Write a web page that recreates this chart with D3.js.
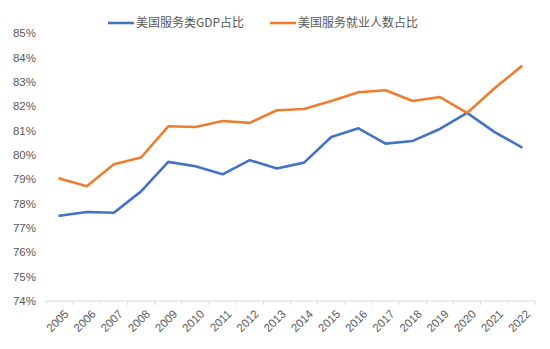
<!DOCTYPE html>
<html>
<head>
<meta charset="utf-8">
<script src="https://cdn.jsdelivr.net/npm/d3@7"></script>
<style>
  html,body{margin:0;padding:0;background:#fff;}
  svg{display:block;}
  .tick text{fill:#595959;}
</style>
</head>
<body>
<svg id="chart" width="550" height="349"></svg>
<script>
// ---- data ----
const years = ['2005','2006','2007','2008','2009','2010','2011','2012','2013','2014','2015','2016','2017','2018','2019','2020','2021','2022'];
const gdpShare = [77.5,77.65,77.62,78.5,79.71,79.53,79.2,79.78,79.44,79.68,80.73,81.09,80.46,80.57,81.06,81.72,80.94,80.32];
const jobShare = [79.03,78.71,79.61,79.89,81.17,81.14,81.39,81.31,81.83,81.88,82.21,82.57,82.65,82.21,82.37,81.72,82.72,83.63];
const yTicks = [74,75,76,77,78,79,80,81,82,83,84,85];
const seriesNames = ['美国服务类GDP占比','美国服务就业人数占比'];
const colors = ['#4472C4','#ED7D31'];

(function(){
  const svg = d3.select('#chart');
  const font = '"Liberation Sans Narrow","Liberation Sans",Arial,sans-serif';
  const M = {l:46, r:15, t:33, b:48};
  const W = 550, H = 349;

  const x = d3.scaleBand().domain(years).range([M.l, W-M.r]);
  const y = d3.scaleLinear().domain([74,85]).range([H-M.b, M.t]);

  // y axis: labels only
  const ya = svg.append('g').attr('transform',`translate(${M.l},0)`)
    .call(d3.axisLeft(y).tickValues(yTicks).tickSize(0).tickPadding(10).tickFormat(d=>d+'%'));
  ya.select('.domain').remove();
  ya.selectAll('text').style('font-family',font).style('font-size','11.5px');

  // x axis: grey baseline with boundary ticks
  const xa = svg.append('g').attr('transform',`translate(0,${H-M.b})`);
  xa.append('line').attr('x1',M.l).attr('x2',W-M.r).attr('stroke','#D9D9D9');
  const bounds = years.map(d=>x(d)).concat([x(years[years.length-1])+x.bandwidth()]);
  xa.selectAll('line.tk').data(bounds).join('line').attr('class','tk')
    .attr('x1',d=>d).attr('x2',d=>d).attr('y1',0).attr('y2',4).attr('stroke','#D9D9D9');
  xa.selectAll('text').data(years).join('text')
    .attr('transform',d=>`translate(${x(d)+x.bandwidth()/2+4},8) rotate(-45)`)
    .attr('text-anchor','end').attr('dy','0.7em')
    .style('font-family',font).style('font-size','11.5px').attr('fill','#595959')
    .text(d=>d);

  // lines
  const line = d3.line().x((d,i)=>x(years[i])+x.bandwidth()/2).y(d=>y(d));
  [gdpShare, jobShare].forEach((s,i)=>{
    svg.append('path').datum(s).attr('d',line).attr('fill','none')
      .attr('stroke',colors[i]).attr('stroke-width',2.6).attr('stroke-linejoin','round').attr('stroke-linecap','round');
  });

  // legend
  const lg = [{x:108, name:seriesNames[0], c:colors[0]},{x:270, name:seriesNames[1], c:colors[1]}];
  const lgG = svg.append('g').selectAll('g').data(lg).join('g').attr('transform',d=>`translate(${d.x},23)`);
  lgG.append('line').attr('x1',0).attr('x2',26).attr('stroke',d=>d.c).attr('stroke-width',2.6);
  lgG.append('text').attr('x',28).attr('dy','0.35em').attr('fill','#595959')
    .style('font-family','"Noto Sans CJK SC",'+font).style('font-size','12px').text(d=>d.name);
})();
</script>
</body>
</html>
